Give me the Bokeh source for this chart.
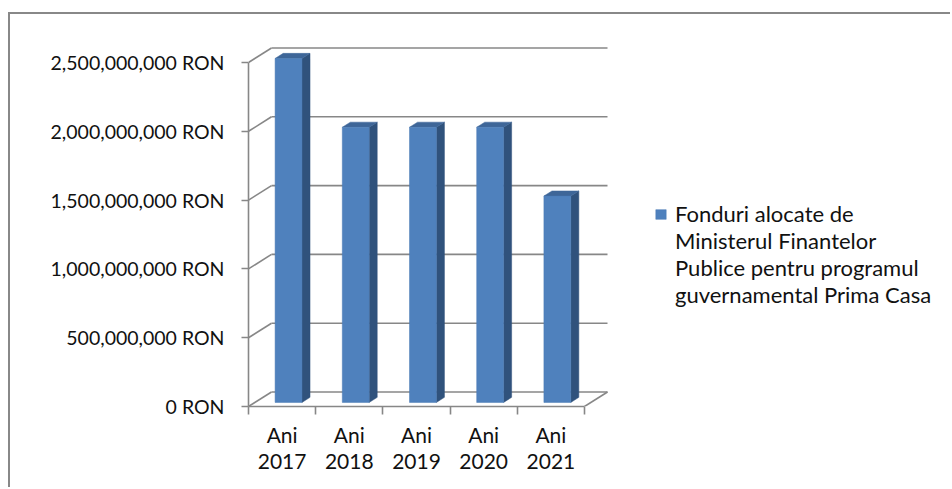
from bokeh.plotting import figure
from bokeh.models import Range1d, FixedTicker, Legend, LegendItem
from bokeh.embed import file_html
from bokeh.resources import INLINE

# ---- data ----
categories = ["Ani\n2017", "Ani\n2018", "Ani\n2019", "Ani\n2020", "Ani\n2021"]
values = [2500000000, 2000000000, 2000000000, 2000000000, 1500000000]
y_ticks = [0, 500000000, 1000000000, 1500000000, 2000000000, 2500000000]
y_tick_labels = ["0 RON", "500,000,000 RON", "1,000,000,000 RON",
                 "1,500,000,000 RON", "2,000,000,000 RON", "2,500,000,000 RON"]
series_label = ("Fonduri alocate de\nMinisterul Finantelor\n"
                "Publice pentru programul\nguvernamental Prima Casa")

# ---- layout constants (pixels) ----
OX, OY = 10, 14                  # canvas origin inside the page
W, H = 952 - OX, 489 - OY
FRAME_L, FRAME_T, FRAME_B = 248, 40, 406
PX_CAT = 67.2                    # px per category
PX_VAL = 137.6e-9                # px per RON
DX = 23 / PX_CAT                 # depth offset in data units
DY = 14.5 / PX_VAL
N = len(categories)

FONT = "Lato"
TXT = "#111111"
GRID = "#878787"

p = figure(width=W, height=H, output_backend="svg", toolbar_location=None,
           x_range=Range1d(0, (952 - FRAME_L) / PX_CAT),
           y_range=Range1d(0, (FRAME_B - FRAME_T) / PX_VAL),
           min_border_left=FRAME_L - OX, min_border_right=0,
           min_border_top=FRAME_T - OY, min_border_bottom=489 - FRAME_B)
p.margin = (12, 0, 0, 8)
p.styles = {"border-left": "2px solid #888888", "border-top": "2px solid #888888"}
p.grid.visible = False
p.outline_line_color = None

# ---- walls and floor ----
bx0 = [DX] * len(y_ticks)
bx1 = [N + DX] * len(y_ticks)
by = [t + DY for t in y_ticks]
p.segment(bx0, by, bx1, by, line_color=GRID, line_width=1.6)
p.segment([0] * len(y_ticks), y_ticks, bx0, by, line_color=GRID, line_width=1.6)
p.segment([N], [0], [N + DX], [DY], line_color=GRID, line_width=1.6)

# ---- 3D bars ----
F0, D, BW = 0.28, 0.35, 0.40
xl = [i + 0.5 - BW / 2 + F0 * DX for i in range(N)]
xr = [x + BW for x in xl]
yb = [F0 * DY] * N
yt = [v + F0 * DY for v in values]
side_x = [[r, r + D * DX, r + D * DX, r] for r in xr]
side_y = [[b, b + D * DY, t + D * DY, t] for b, t in zip(yb, yt)]
top_x = [[l, r, r + D * DX, l + D * DX] for l, r in zip(xl, xr)]
top_y = [[t, t, t + D * DY, t + D * DY] for t in yt]
p.patches(side_x, side_y, fill_color="#30527C", line_color="#30527C", line_width=0.5)
p.patches(top_x, top_y, fill_color="#3E6698", line_color="#3E6698", line_width=0.5)
front = p.quad(left=xl, right=xr, bottom=yb, top=yt,
               fill_color="#4F81BD", line_color="#4A7AB4", line_width=0.5)
# invisible stand-in so that continuation lines of the legend label have no swatch
blank = p.quad(left=[], right=[], bottom=[], top=[], fill_alpha=0, line_alpha=0)

# ---- axes ----
ya = p.yaxis[0]
ya.ticker = FixedTicker(ticks=y_ticks, minor_ticks=[])
ya.major_label_overrides = {t: s for t, s in zip(y_ticks, y_tick_labels)}
ya.bounds = (y_ticks[0], y_ticks[-1])
ya.axis_line_color = GRID
ya.axis_line_width = 1.6
ya.major_tick_line_color = GRID
ya.major_tick_line_width = 1.6
ya.major_tick_out = 7
ya.major_tick_in = 0
ya.minor_tick_out = 0
ya.major_label_standoff = 17
ya.major_label_text_font = FONT
ya.major_label_text_font_size = "19.5px"
ya.major_label_text_color = TXT

xa = p.xaxis[0]
centers = [i + 0.5 for i in range(N)]
xa.ticker = FixedTicker(ticks=centers, minor_ticks=list(range(N + 1)))
xa.major_label_overrides = {c: s for c, s in zip(centers, categories)}
xa.bounds = (0, N)
xa.axis_line_color = GRID
xa.axis_line_width = 1.6
xa.major_tick_out = 0
xa.major_tick_in = 0
xa.minor_tick_out = 8
xa.minor_tick_in = 0
xa.minor_tick_line_color = GRID
xa.minor_tick_line_width = 1.6
xa.major_label_standoff = 7
xa.major_label_text_font = FONT
xa.major_label_text_font_size = "21px"
xa.major_label_text_line_height = 1.05
xa.major_label_text_color = TXT

# ---- legend ----
lines = series_label.split("\n")
items = [LegendItem(label=lines[0], renderers=[front])]
items += [LegendItem(label=s, renderers=[blank]) for s in lines[1:]]
legend = Legend(items=items,
                location=(406, 98), glyph_width=13, glyph_height=12,
                label_standoff=8, padding=0, margin=0, spacing=-1,
                label_height=25,
                border_line_color=None, background_fill_alpha=0,
                label_text_font=FONT, label_text_font_size="22px",
                label_text_color=TXT)
p.add_layout(legend)

open("out.html", "w").write(file_html(p, INLINE))
